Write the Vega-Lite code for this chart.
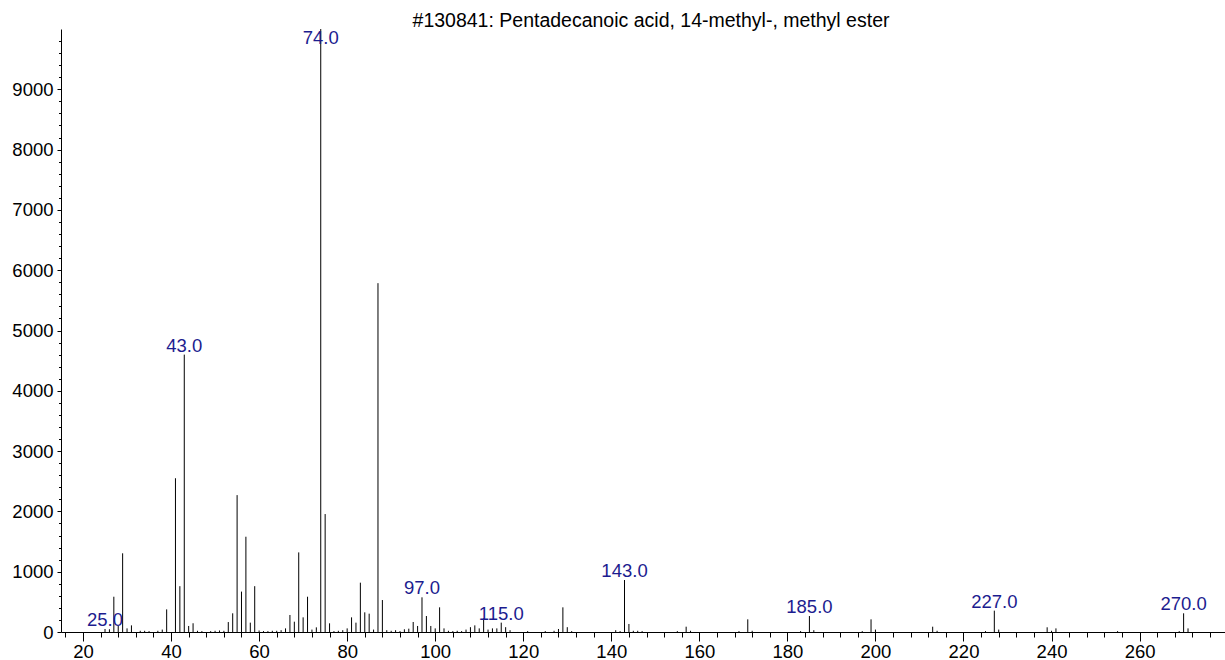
{
  "$schema": "https://vega.github.io/schema/vega-lite/v6.json",
  "width": 1164,
  "height": 603,
  "autosize": "none",
  "padding": {"left": 61, "top": 29, "right": 0, "bottom": 28},
  "background": "white",
  "config": {"view": {"stroke": null}, "font": "Liberation Sans"},
  "title": {
    "text": "#130841: Pentadecanoic acid, 14-methyl-, methyl ester",
    "font": "Liberation Sans",
    "fontSize": 19.5,
    "fontWeight": "normal",
    "color": "black",
    "anchor": "middle",
    "baseline": "alphabetic",
    "offset": -18,
    "dx": 8
  },
  "data": {
    "values": [
      {"mz": 25, "intensity": 50, "label": "25.0"},
      {"mz": 26, "intensity": 45},
      {"mz": 27, "intensity": 585},
      {"mz": 28, "intensity": 100},
      {"mz": 29, "intensity": 1305},
      {"mz": 30, "intensity": 60},
      {"mz": 31, "intensity": 110},
      {"mz": 33, "intensity": 20},
      {"mz": 34, "intensity": 20},
      {"mz": 35, "intensity": 15},
      {"mz": 37, "intensity": 20},
      {"mz": 38, "intensity": 40},
      {"mz": 39, "intensity": 375},
      {"mz": 41, "intensity": 2550},
      {"mz": 42, "intensity": 760},
      {"mz": 43, "intensity": 4600, "label": "43.0"},
      {"mz": 44, "intensity": 100},
      {"mz": 45, "intensity": 145},
      {"mz": 46, "intensity": 20},
      {"mz": 47, "intensity": 15},
      {"mz": 49, "intensity": 15},
      {"mz": 50, "intensity": 20},
      {"mz": 51, "intensity": 25},
      {"mz": 52, "intensity": 20},
      {"mz": 53, "intensity": 165},
      {"mz": 54, "intensity": 310},
      {"mz": 55, "intensity": 2270},
      {"mz": 56, "intensity": 670},
      {"mz": 57, "intensity": 1580},
      {"mz": 58, "intensity": 155},
      {"mz": 59, "intensity": 760},
      {"mz": 60, "intensity": 25},
      {"mz": 61, "intensity": 15},
      {"mz": 62, "intensity": 15},
      {"mz": 63, "intensity": 20},
      {"mz": 64, "intensity": 20},
      {"mz": 65, "intensity": 30},
      {"mz": 66, "intensity": 60},
      {"mz": 67, "intensity": 282},
      {"mz": 68, "intensity": 171},
      {"mz": 69, "intensity": 1320},
      {"mz": 70, "intensity": 243},
      {"mz": 71, "intensity": 585},
      {"mz": 72, "intensity": 40},
      {"mz": 73, "intensity": 77},
      {"mz": 74, "intensity": 9999, "label": "74.0"},
      {"mz": 75, "intensity": 1956},
      {"mz": 76, "intensity": 144},
      {"mz": 77, "intensity": 15},
      {"mz": 78, "intensity": 20},
      {"mz": 79, "intensity": 30},
      {"mz": 80, "intensity": 60},
      {"mz": 81, "intensity": 243},
      {"mz": 82, "intensity": 155},
      {"mz": 83, "intensity": 818},
      {"mz": 84, "intensity": 326},
      {"mz": 85, "intensity": 304},
      {"mz": 86, "intensity": 40},
      {"mz": 87, "intensity": 5785},
      {"mz": 88, "intensity": 530},
      {"mz": 89, "intensity": 30},
      {"mz": 90, "intensity": 20},
      {"mz": 91, "intensity": 30},
      {"mz": 92, "intensity": 15},
      {"mz": 93, "intensity": 45},
      {"mz": 94, "intensity": 55},
      {"mz": 95, "intensity": 166},
      {"mz": 96, "intensity": 100},
      {"mz": 97, "intensity": 575, "label": "97.0"},
      {"mz": 98, "intensity": 265},
      {"mz": 99, "intensity": 100},
      {"mz": 100, "intensity": 60},
      {"mz": 101, "intensity": 409},
      {"mz": 102, "intensity": 60},
      {"mz": 103, "intensity": 20},
      {"mz": 104, "intensity": 15},
      {"mz": 105, "intensity": 20},
      {"mz": 106, "intensity": 15},
      {"mz": 107, "intensity": 40},
      {"mz": 108, "intensity": 80},
      {"mz": 109, "intensity": 110},
      {"mz": 110, "intensity": 60},
      {"mz": 111, "intensity": 226},
      {"mz": 112, "intensity": 40},
      {"mz": 113, "intensity": 60},
      {"mz": 114, "intensity": 60},
      {"mz": 115, "intensity": 155, "label": "115.0"},
      {"mz": 116, "intensity": 80},
      {"mz": 117, "intensity": 30},
      {"mz": 121, "intensity": 15},
      {"mz": 125, "intensity": 15},
      {"mz": 127, "intensity": 20},
      {"mz": 128, "intensity": 50},
      {"mz": 129, "intensity": 409},
      {"mz": 130, "intensity": 80},
      {"mz": 131, "intensity": 15},
      {"mz": 141, "intensity": 30},
      {"mz": 142, "intensity": 15},
      {"mz": 143, "intensity": 862, "label": "143.0"},
      {"mz": 144, "intensity": 133},
      {"mz": 145, "intensity": 20},
      {"mz": 146, "intensity": 20},
      {"mz": 147, "intensity": 15},
      {"mz": 155, "intensity": 15},
      {"mz": 157, "intensity": 88},
      {"mz": 158, "intensity": 20},
      {"mz": 169, "intensity": 15},
      {"mz": 171, "intensity": 210},
      {"mz": 172, "intensity": 20},
      {"mz": 183, "intensity": 15},
      {"mz": 185, "intensity": 265, "label": "185.0"},
      {"mz": 186, "intensity": 30},
      {"mz": 197, "intensity": 15},
      {"mz": 199, "intensity": 210},
      {"mz": 200, "intensity": 40},
      {"mz": 213, "intensity": 88},
      {"mz": 214, "intensity": 20},
      {"mz": 225, "intensity": 15},
      {"mz": 227, "intensity": 354, "label": "227.0"},
      {"mz": 228, "intensity": 40},
      {"mz": 239, "intensity": 78},
      {"mz": 240, "intensity": 20},
      {"mz": 241, "intensity": 60},
      {"mz": 255, "intensity": 15},
      {"mz": 269, "intensity": 15},
      {"mz": 270, "intensity": 310, "label": "270.0"},
      {"mz": 271, "intensity": 60}
    ]
  },
  "layer": [
    {
      "mark": {"type": "rule", "color": "black", "strokeWidth": 1},
      "encoding": {
        "x": {
          "field": "mz", "type": "quantitative",
          "scale": {"domain": [15, 279.4], "nice": false, "zero": false},
          "axis": {
            "orient": "bottom", "title": null, "grid": false,
            "values": [20, 40, 60, 80, 100, 120, 140, 160, 180, 200, 220, 240, 260],
            "format": "d",
            "tickSize": 9, "tickColor": "black", "tickWidth": 1,
            "domainColor": "black", "domainWidth": 1,
            "labelFont": "Liberation Sans", "labelFontSize": 18.5, "labelColor": "black",
            "labelPadding": 1, "labelFlush": false, "labelOverlap": false
          }
        },
        "y": {
          "field": "intensity", "type": "quantitative",
          "scale": {"domain": [0, 10000], "nice": false},
          "axis": {
            "orient": "left", "title": null, "grid": false,
            "values": [0, 1000, 2000, 3000, 4000, 5000, 6000, 7000, 8000, 9000],
            "format": "d",
            "tickSize": 4, "tickColor": "black", "tickWidth": 1,
            "domainColor": "black", "domainWidth": 1,
            "labelFont": "Liberation Sans", "labelFontSize": 18.5, "labelColor": "black",
            "labelPadding": 4, "labelFlush": false, "labelOverlap": false
          }
        },
        "y2": {"datum": 0}
      }
    },
    {
      "transform": [{"filter": "datum.label && datum.mz != 74"}],
      "mark": {"type": "text", "color": "#1c1c8f", "font": "Liberation Sans", "fontSize": 18.5, "baseline": "middle", "align": "center", "dy": -9},
      "encoding": {
        "x": {
          "field": "mz", "type": "quantitative",
          "axis": {
            "orient": "bottom", "title": null, "grid": false, "labels": false, "domain": false,
            "values": [16, 20, 24, 28, 32, 36, 40, 44, 48, 52, 56, 60, 64, 68, 72, 76, 80, 84, 88, 92, 96, 100, 104, 108, 112, 116, 120, 124, 128, 132, 136, 140, 144, 148, 152, 156, 160, 164, 168, 172, 176, 180, 184, 188, 192, 196, 200, 204, 208, 212, 216, 220, 224, 228, 232, 236, 240, 244, 248, 252, 256, 260, 264, 268, 272, 276],
            "tickSize": 5, "tickColor": "black", "tickWidth": 1
          }
        },
        "y": {
          "field": "intensity", "type": "quantitative",
          "axis": {
            "orient": "left", "title": null, "grid": false, "labels": false, "domain": false,
            "values": [200, 400, 600, 800, 1200, 1400, 1600, 1800, 2200, 2400, 2600, 2800, 3200, 3400, 3600, 3800, 4200, 4400, 4600, 4800, 5200, 5400, 5600, 5800, 6200, 6400, 6600, 6800, 7200, 7400, 7600, 7800, 8200, 8400, 8600, 8800, 9200, 9400, 9600, 9800],
            "tickSize": 2.5, "tickColor": "black", "tickWidth": 1
          }
        },
        "text": {"field": "label"}
      }
    },
    {
      "transform": [{"filter": "datum.mz == 74"}],
      "mark": {"type": "text", "color": "#1c1c8f", "font": "Liberation Sans", "fontSize": 18.5, "baseline": "middle", "align": "center", "dy": 9},
      "encoding": {
        "x": {"field": "mz", "type": "quantitative", "axis": null},
        "y": {"field": "intensity", "type": "quantitative", "axis": null},
        "text": {"field": "label"}
      }
    }
  ],
  "resolve": {"axis": {"x": "independent", "y": "independent"}}
}
